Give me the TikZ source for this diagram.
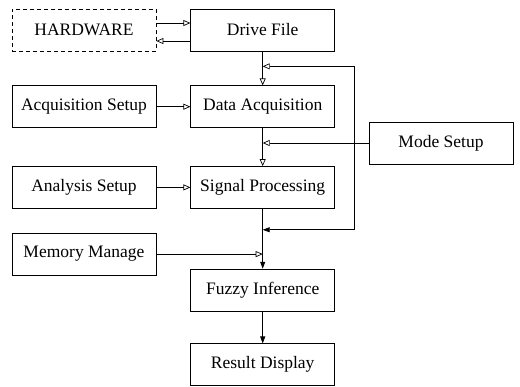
\documentclass[tikz,border=0pt]{standalone}
\usepackage{fontspec}
\setmainfont{Liberation Serif}
\usetikzlibrary{shapes,arrows.meta,positioning}
\tikzstyle{block} = [rectangle, draw, line width=0.7pt,
minimum width=144pt, minimum height=42pt, inner sep=0pt, font=\fontsize{17.5}{20}\selectfont]
\tikzstyle{hwblock} = [block, dash pattern=on 4pt off 3pt]
\tikzstyle{line} = [draw, line width=0.7pt, -{Triangle[open,length=7pt,width=6pt]}]
\tikzstyle{fline} = [draw, line width=0.7pt, -{Triangle[length=7pt,width=5pt]}]

\begin{document}
\begin{tikzpicture}[x=1pt, y=-1pt]
\useasboundingbox (0,0) rectangle (520,386);
% Place nodes
\node [hwblock] (hw) at (84,30) {HARDWARE};
\node [block, right=34pt of hw] (drive) {Drive File};
\node [block, below=34pt of drive] (acq) {Data Acquisition};
\node [block, left=34pt of acq] (acqset) {Acquisition Setup};
\node [block, below=38pt of acq] (sig) {Signal Processing};
\node [block, left=34pt of sig] (anaset) {Analysis Setup};
\node [block, below=24pt of anaset] (mem) {Memory Manage};
\node [block, below=60pt of sig] (fuzzy) {Fuzzy Inference};
\node [block, below=32pt of fuzzy] (result) {Result Display};
\node [block] (mode) at (441,143) {Mode Setup};
\coordinate [below=21pt of sig.south] (fbin);
\coordinate [above=19pt of acq.north] (fbtop);
% Connect
\path [line] ([yshift=7pt]hw.east) -- ([yshift=7pt]drive.west);
\path [line] ([yshift=-11pt]drive.west) -- ([yshift=-11pt]hw.east);
\path [line] (drive) -- (acq);
\path [line] (acqset) -- (acq);
\path [line] (acq) -- (sig);
\path [line] (anaset) -- (sig);
\path [line] (mode.west) -- (mode.west -| acq.south);
\path [line] (mem.east) -- (mem.east -| sig.south);
\path [fline] (sig) -- (fuzzy);
\path [fline] (fuzzy) -- (result);
\draw [line width=0.7pt, {Triangle[length=7pt,width=5pt]}-{Triangle[open,length=7pt,width=6pt]}]
  (fbin) -| ([xshift=19pt]acq.east |- fbtop) -- (fbtop);
\end{tikzpicture}
\end{document}
